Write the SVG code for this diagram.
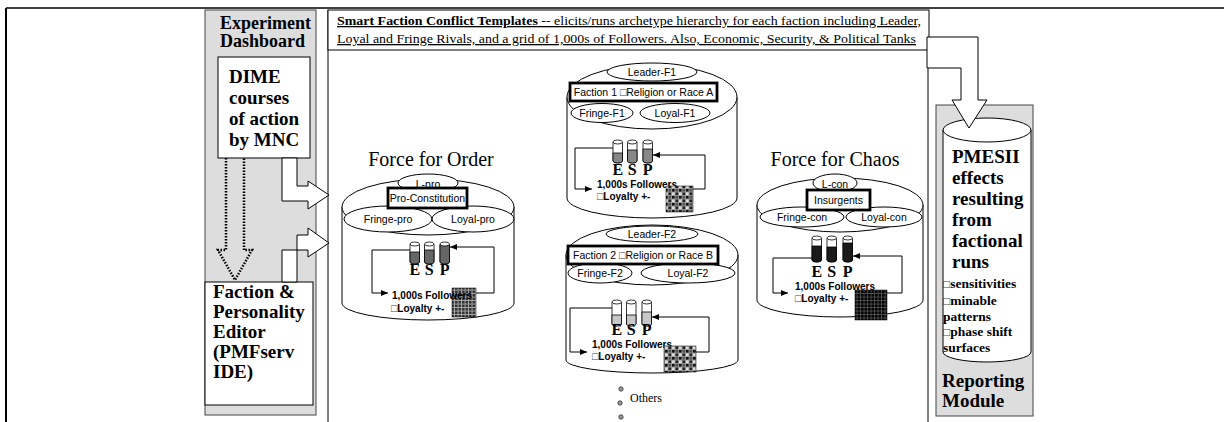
<svg xmlns="http://www.w3.org/2000/svg" width="1224" height="422" viewBox="0 0 1224 422">
<style>
.t{font-family:"Liberation Serif","Times New Roman",serif;fill:#000}
.a{font-family:"Liberation Sans",Arial,"DejaVu Sans",sans-serif;fill:#000}
.b{font-weight:bold}
.ln{fill:none;stroke:#000;stroke-width:1}
.wh{fill:#fff;stroke:#000;stroke-width:1}
.box{fill:#fff;stroke:#000;stroke-width:2.8}
.gp{fill:#dddddd;stroke:#444;stroke-width:1}
.lbl{font-size:10.5px;text-anchor:middle}
.fl{font-size:10px;font-weight:bold}
.esp{font-size:16px;font-weight:bold;text-anchor:middle}
.big{font-size:19px;font-weight:bold}
.sm{font-size:13.5px;font-weight:bold}
.ttl{font-size:20px;text-anchor:middle}
.tk{fill:#fff;stroke:#000;stroke-width:0.8}
.tf{font-size:10.5px;font-weight:normal;fill:#444}
.tf2{font-size:12px;font-weight:normal;fill:#444}
</style>
<defs>
<marker id="ah" markerWidth="8" markerHeight="8" refX="7" refY="4" orient="auto" markerUnits="userSpaceOnUse"><path d="M0,1 L7,4 L0,7 Z" fill="#000"/></marker>
<pattern id="g1" width="3.5" height="3.5" patternUnits="userSpaceOnUse"><rect width="3.5" height="3.5" fill="#aaa"/><rect width="2.6" height="2.6" fill="#333"/></pattern>
<pattern id="g2" width="7" height="7" patternUnits="userSpaceOnUse"><rect width="7" height="7" fill="#999"/><rect width="2.6" height="2.6" fill="#111"/><rect x="3.5" width="2.6" height="2.6" fill="#555"/><rect y="3.5" width="2.6" height="2.6" fill="#ddd"/><rect x="3.5" y="3.5" width="2.6" height="2.6" fill="#222"/></pattern>
<pattern id="g3" width="3.5" height="3.5" patternUnits="userSpaceOnUse"><rect width="3.5" height="3.5" fill="#555"/><rect width="2.7" height="2.7" fill="#000"/></pattern>
</defs>

<g id="frame">
<line x1="6" y1="8" x2="1224" y2="8" stroke="#000" stroke-width="1.5"/>
<line x1="6" y1="8" x2="6" y2="422" stroke="#000" stroke-width="2"/>
</g>

<g id="experiment-dashboard">
<rect x="205" y="10" width="111" height="405" class="gp"/>
<text class="t b" font-size="18" x="220" y="29">Experiment</text>
<text class="t b" font-size="18" x="220" y="47">Dashboard</text>
</g>

<g id="dime">
<rect x="218" y="57" width="92" height="101" class="wh"/>
<text class="t big" x="229" y="83">DIME</text>
<text class="t big" x="229" y="104">courses</text>
<text class="t big" x="229" y="125">of action</text>
<text class="t big" x="229" y="146">by MNC</text>
</g>

<g id="faction-editor">
<rect x="205" y="282" width="108" height="123" class="wh"/>
<text class="t big" x="213" y="298">Faction &amp;</text>
<text class="t big" x="213" y="318">Personality</text>
<text class="t big" x="213" y="338">Editor</text>
<text class="t big" x="213" y="358">(PMFserv</text>
<text class="t big" x="213" y="378">IDE)</text>
</g>

<g id="templates-panel">
<line x1="328" y1="10" x2="328" y2="422" stroke="#000" stroke-width="1"/>
<line x1="928" y1="50" x2="928" y2="422" stroke="#000" stroke-width="1"/>
<rect x="328" y="10" width="601" height="40" class="wh"/>
<text class="t" font-size="13" x="337" y="25" text-decoration="underline" textLength="584" lengthAdjust="spacingAndGlyphs"><tspan font-weight="bold">Smart Faction Conflict Templates</tspan> -- elicits/runs archetype hierarchy for each faction including Leader,</text>
<text class="t" font-size="13" x="337" y="43" text-decoration="underline" textLength="579" lengthAdjust="spacingAndGlyphs">Loyal and Fringe Rivals, and a grid of 1,000s of Followers. Also, Economic, Security, &amp; Political Tanks</text>
</g>

<g id="reporting-module">
<rect x="936" y="105" width="97" height="311" class="gp"/>
<path d="M943,130 V352 A44,10 0 0 0 1031,352 V130 Z" class="wh"/>
<ellipse cx="987" cy="130" rx="44" ry="12" class="wh"/>
<text class="t big" x="952" y="163">PMESII</text>
<text class="t big" x="952" y="184">effects</text>
<text class="t big" x="952" y="205">resulting</text>
<text class="t big" x="952" y="226">from</text>
<text class="t big" x="952" y="247">factional</text>
<text class="t big" x="952" y="268">runs</text>
<text class="t sm" x="943" y="288"><tspan class="tf2">□</tspan>sensitivities</text>
<text class="t sm" x="943" y="305"><tspan class="tf2">□</tspan>minable</text>
<text class="t sm" x="943" y="321">patterns</text>
<text class="t sm" x="943" y="336"><tspan class="tf2">□</tspan>phase shift</text>
<text class="t sm" x="943" y="352">surfaces</text>
<text class="t big" x="942" y="387">Reporting</text>
<text class="t big" x="942" y="407">Module</text>
</g>

<g id="force-for-order">
<text class="t ttl" x="431" y="166">Force for Order</text>
<path d="M342,207 V303 A86,17 0 0 0 514,303 V207 Z" class="wh"/>
<ellipse cx="428" cy="207" rx="86" ry="28" class="wh"/>
<ellipse cx="428" cy="183" rx="30" ry="9" class="wh"/>
<text class="a lbl" x="428" y="188">L-pro</text>
<ellipse cx="388" cy="219" rx="44" ry="13" class="wh"/>
<text class="a lbl" x="388" y="223">Fringe-pro</text>
<ellipse cx="473" cy="219" rx="41" ry="13" class="wh"/>
<text class="a lbl" x="473" y="223">Loyal-pro</text>
<rect x="388" y="188" width="79" height="20" class="box"/>
<text class="a lbl" font-size="10" x="427.5" y="202">Pro-Constitution</text>
<path d="M410,244V262Q410,264 414.75,264Q419.5,264 419.5,262V244" class="tk"/>
<path d="M410,252V262Q410,264 414.75,264Q419.5,264 419.5,262V252Z" fill="#666" stroke="#000" stroke-width="0.8"/>
<ellipse cx="414.75" cy="244" rx="4.75" ry="2" class="tk"/>
<path d="M424.5,244V262Q424.5,264 429.25,264Q434,264 434,262V244" class="tk"/>
<path d="M424.5,250V262Q424.5,264 429.25,264Q434,264 434,262V250Z" fill="#666" stroke="#000" stroke-width="0.8"/>
<ellipse cx="429.25" cy="244" rx="4.75" ry="2" class="tk"/>
<path d="M440,244V262Q440,264 444.75,264Q449.5,264 449.5,262V244" class="tk"/>
<path d="M440,245V262Q440,264 444.75,264Q449.5,264 449.5,262V245Z" fill="#666" stroke="#000" stroke-width="0.8"/>
<ellipse cx="444.75" cy="244" rx="4.75" ry="2" class="tk"/>
<text class="t esp" x="414.75" y="275">E</text>
<text class="t esp" x="429.25" y="275">S</text>
<text class="t esp" x="444.75" y="275">P</text>
<rect x="452" y="288" width="24" height="29" fill="url(#g1)" stroke="#000" stroke-width="0.5"/>
<text class="a fl" x="392" y="299">1,000s Followers</text>
<text class="a fl" x="391" y="312"><tspan class="tf">□</tspan>Loyalty +-</text>
</g>

<g id="faction-1">
<path d="M567,97 V198 A85,20 0 0 0 737,198 V97 Z" class="wh"/>
<ellipse cx="652" cy="97" rx="85" ry="32" class="wh"/>
<ellipse cx="652" cy="72" rx="45" ry="9" class="wh"/>
<text class="a lbl" x="652" y="76">Leader-F1</text>
<ellipse cx="602" cy="113" rx="31" ry="9.5" class="wh"/>
<text class="a lbl" x="602" y="117">Fringe-F1</text>
<ellipse cx="675" cy="113" rx="35" ry="9.5" class="wh"/>
<text class="a lbl" x="675" y="117">Loyal-F1</text>
<rect x="570" y="83" width="147" height="18" class="box"/>
<text class="a lbl" x="643.5" y="96">Faction 1 <tspan class="tf">□</tspan>Religion or Race A</text>
<path d="M613,142V161Q613,163 617.75,163Q622.5,163 622.5,161V142" class="tk"/>
<path d="M613,153V161Q613,163 617.75,163Q622.5,163 622.5,161V153Z" fill="#888" stroke="#000" stroke-width="0.8"/>
<ellipse cx="617.75" cy="142" rx="4.75" ry="2" class="tk"/>
<path d="M627.5,142V161Q627.5,163 632.25,163Q637,163 637,161V142" class="tk"/>
<path d="M627.5,150V161Q627.5,163 632.25,163Q637,163 637,161V150Z" fill="#888" stroke="#000" stroke-width="0.8"/>
<ellipse cx="632.25" cy="142" rx="4.75" ry="2" class="tk"/>
<path d="M643,142V161Q643,163 647.75,163Q652.5,163 652.5,161V142" class="tk"/>
<path d="M643,149V161Q643,163 647.75,163Q652.5,163 652.5,161V149Z" fill="#888" stroke="#000" stroke-width="0.8"/>
<ellipse cx="647.75" cy="142" rx="4.75" ry="2" class="tk"/>
<text class="t esp" x="617.75" y="175">E</text>
<text class="t esp" x="632.25" y="175">S</text>
<text class="t esp" x="647.75" y="175">P</text>
<text class="a fl" x="597" y="188">1,000s Followers</text>
<text class="a fl" x="597" y="200"><tspan class="tf">□</tspan>Loyalty +-</text>
<rect x="666" y="186" width="27" height="26" fill="url(#g2)" stroke="#000" stroke-width="0.5"/>
</g>

<g id="faction-2">
<path d="M566,255 V360 A86,13 0 0 0 738,360 V255 Z" class="wh"/>
<ellipse cx="652" cy="255" rx="86" ry="30" class="wh"/>
<ellipse cx="652" cy="234" rx="46" ry="8" class="wh"/>
<text class="a lbl" x="652" y="238">Leader-F2</text>
<ellipse cx="600" cy="273" rx="32" ry="10" class="wh"/>
<text class="a lbl" x="600" y="277">Fringe-F2</text>
<ellipse cx="688" cy="273" rx="47" ry="10" class="wh"/>
<text class="a lbl" x="688" y="277">Loyal-F2</text>
<rect x="568" y="246" width="150" height="18" class="box"/>
<text class="a lbl" x="643" y="259">Faction 2 <tspan class="tf">□</tspan>Religion or Race B</text>
<path d="M612,302V324Q612,326 616.75,326Q621.5,326 621.5,324V302" class="tk"/>
<path d="M612,315V324Q612,326 616.75,326Q621.5,326 621.5,324V315Z" fill="#c8c8c8" stroke="#000" stroke-width="0.8"/>
<ellipse cx="616.75" cy="302" rx="4.75" ry="2" class="tk"/>
<path d="M626.5,302V324Q626.5,326 631.25,326Q636,326 636,324V302" class="tk"/>
<path d="M626.5,315V324Q626.5,326 631.25,326Q636,326 636,324V315Z" fill="#c8c8c8" stroke="#000" stroke-width="0.8"/>
<ellipse cx="631.25" cy="302" rx="4.75" ry="2" class="tk"/>
<path d="M642,302V324Q642,326 646.75,326Q651.5,326 651.5,324V302" class="tk"/>
<path d="M642,312V324Q642,326 646.75,326Q651.5,326 651.5,324V312Z" fill="#c8c8c8" stroke="#000" stroke-width="0.8"/>
<ellipse cx="646.75" cy="302" rx="4.75" ry="2" class="tk"/>
<text class="t esp" x="616.75" y="335">E</text>
<text class="t esp" x="631.25" y="335">S</text>
<text class="t esp" x="646.75" y="335">P</text>
<text class="a fl" x="592" y="348">1,000s Followers</text>
<text class="a fl" x="592" y="360"><tspan class="tf">□</tspan>Loyalty +-</text>
<rect x="664" y="346" width="32" height="26" fill="url(#g2)" stroke="#000" stroke-width="0.5"/>
</g>

<g id="others">
<circle cx="621" cy="389" r="2.2" fill="#999" stroke="#333" stroke-width="0.8"/>
<circle cx="620" cy="403" r="2.2" fill="#999" stroke="#333" stroke-width="0.8"/>
<circle cx="621" cy="417" r="2.2" fill="#999" stroke="#333" stroke-width="0.8"/>
<text class="t" font-size="12" x="630" y="402">Others</text>
</g>

<g id="force-for-chaos">
<text class="t ttl" x="835" y="166">Force for Chaos</text>
<path d="M757,205 V300 A83,17 0 0 0 923,300 V205 Z" class="wh"/>
<ellipse cx="840" cy="205" rx="83" ry="27" class="wh"/>
<ellipse cx="835" cy="183" rx="22" ry="9" class="wh"/>
<text class="a lbl" x="835" y="188">L-con</text>
<ellipse cx="802" cy="217" rx="42" ry="10" class="wh"/>
<text class="a lbl" x="802" y="221">Fringe-con</text>
<ellipse cx="884" cy="217" rx="38" ry="10" class="wh"/>
<text class="a lbl" x="884" y="221">Loyal-con</text>
<rect x="807" y="190" width="63" height="20" class="box"/>
<text class="a lbl" x="838.5" y="204">Insurgents</text>
<path d="M812,238V260Q812,262 816.75,262Q821.5,262 821.5,260V238" class="tk"/>
<path d="M812,246V260Q812,262 816.75,262Q821.5,262 821.5,260V246Z" fill="#1a1a1a" stroke="#000" stroke-width="0.8"/>
<ellipse cx="816.75" cy="238" rx="4.75" ry="2" class="tk"/>
<path d="M827,238V260Q827,262 831.75,262Q836.5,262 836.5,260V238" class="tk"/>
<path d="M827,247V260Q827,262 831.75,262Q836.5,262 836.5,260V247Z" fill="#1a1a1a" stroke="#000" stroke-width="0.8"/>
<ellipse cx="831.75" cy="238" rx="4.75" ry="2" class="tk"/>
<path d="M843,238V260Q843,262 847.75,262Q852.5,262 852.5,260V238" class="tk"/>
<path d="M843,243V260Q843,262 847.75,262Q852.5,262 852.5,260V243Z" fill="#1a1a1a" stroke="#000" stroke-width="0.8"/>
<ellipse cx="847.75" cy="238" rx="4.75" ry="2" class="tk"/>
<text class="t esp" x="816.75" y="277">E</text>
<text class="t esp" x="831.75" y="277">S</text>
<text class="t esp" x="847.75" y="277">P</text>
<text class="a fl" x="795" y="290">1,000s Followers</text>
<text class="a fl" x="795" y="302"><tspan class="tf">□</tspan>Loyalty +-</text>
<rect x="855" y="290" width="32" height="30" fill="url(#g3)" stroke="#000" stroke-width="0.5"/>
</g>

<g id="connectors">
<path d="M226,158 V250 H218 L235,280 L252,250 H244 V158" fill="none" stroke="#000" stroke-width="2.5" stroke-dasharray="1.5,1.5"/>
<path d="M282,158 V201 H308 V209 L329,195 L308,181 V186 H297 V158 Z" class="wh"/>
<path d="M282,282 V250 H308 V257 L329,243 L308,228 V235 H297 V282 Z" class="wh"/>
<path d="M927,37 H978 V100 H987 L969,128 L952,100 H961 V68 H927 Z" class="wh"/>
<polyline points="410,250 372,250 372,293 388,293" class="ln" marker-end="url(#ah)"/>
<polyline points="476,293 494,293 494,247 450,247" class="ln" marker-end="url(#ah)"/>
<polyline points="613,148 575,148 575,189 592,189" class="ln" marker-end="url(#ah)"/>
<polyline points="693,189 705,189 705,155 653,155" class="ln" marker-end="url(#ah)"/>
<polyline points="612,308 570,308 570,352 587,352" class="ln" marker-end="url(#ah)"/>
<polyline points="696,352 709,352 709,317 652,317" class="ln" marker-end="url(#ah)"/>
<polyline points="812,258 773,258 773,293 788,293" class="ln" marker-end="url(#ah)"/>
<polyline points="887,293 902,293 902,256 853,256" class="ln" marker-end="url(#ah)"/>
</g>
</svg>
